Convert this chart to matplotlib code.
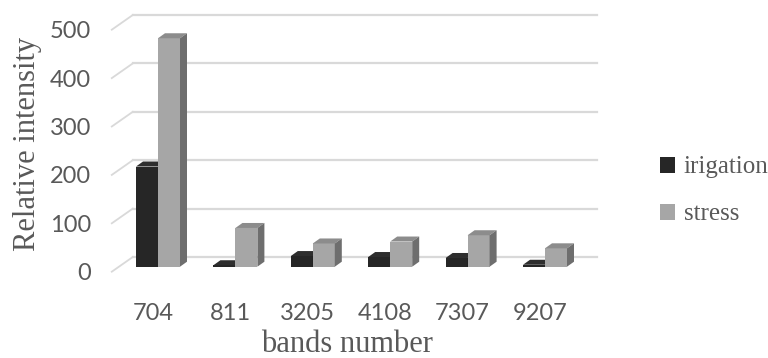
import matplotlib
matplotlib.use("Agg")
import matplotlib.pyplot as plt
import matplotlib.transforms as mtransforms
from matplotlib.patches import Polygon, Patch

bands = ["704", "811", "3205", "4108", "7307", "9207"]
irigation = [207, 3, 22, 20, 18, 4]
stress = [472, 80, 48, 52, 65, 38]
yticks = [0, 100, 200, 300, 400, 500]

W, H, DPI = 768, 358, 100
fig = plt.figure(figsize=(W / DPI, H / DPI), dpi=DPI)

# front plane of the columns, in pixels
left, right, bottom, top = 119.3, 583.7, 266.7, 24.7
ax = fig.add_axes([left / W, (H - bottom) / H, (right - left) / W, (bottom - top) / H])
ax.set_xlim(-0.5, len(bands) - 0.5)
ax.set_ylim(0, 500)
for s in ax.spines.values():
    s.set_visible(False)

grey = "#595959"
grid_c = "#d9d9d9"
bw = 22 / 77.4          # column width in category units
depth = (7, 5)          # column depth offset, px
back = (13.5, 9.7)      # back wall offset from column plane, px
front = (-7.5, -5)      # floor front edge offset, px


def off(dx, dy):
    return ax.transData + mtransforms.ScaledTranslation(dx / DPI, dy / DPI, fig.dpi_scale_trans)


def pts(xy, dx, dy):
    # data points shifted by a pixel offset, back in data coords
    disp = ax.transData.transform(xy)
    disp[:, 0] += dx
    disp[:, 1] += dy
    return ax.transData.inverted().transform(disp)


# back wall gridlines and floor/side diagonals
for v in yticks:
    ax.plot([-0.5, len(bands) - 0.5], [v, v], color=grid_c, lw=1.6,
            transform=off(*back), clip_on=False, zorder=1)
    a = pts([[-0.5, v]], *front)[0]
    b = pts([[-0.5, v]], *back)[0]
    ax.plot([a[0], b[0]], [a[1], b[1]], color=grid_c, lw=1.3, clip_on=False, zorder=1)


def column(x0, v, c_front, c_top, c_side, z):
    ax.bar(x0, v, width=bw, align="edge", color=c_front, zorder=z, clip_on=False)
    x1 = x0 + bw
    top_face = [[x0, v], [x1, v]]
    t = pts(top_face, *depth)
    ax.add_patch(Polygon([top_face[0], top_face[1], t[1], t[0]], closed=True,
                         facecolor=c_top, edgecolor="none", zorder=z, clip_on=False))
    side = [[x1, 0], [x1, v]]
    s = pts(side, *depth)
    ax.add_patch(Polygon([side[0], side[1], s[1], s[0]], closed=True,
                         facecolor=c_side, edgecolor="none", zorder=z, clip_on=False))


for i in range(len(bands)):
    column(i - bw, irigation[i], "#262626", "#2e2e2e", "#1a1a1a", 3 + 2 * i)
    column(i, stress[i], "#a6a6a6", "#8c8c8c", "#6e6e6e", 4 + 2 * i)

# ticks
ax.set_xticks(range(len(bands)))
ax.set_xticklabels(bands)
ax.set_yticks(yticks)
ax.tick_params(length=0, colors=grey, labelsize=17)
ax.tick_params(axis="x", pad=26)
ax.tick_params(axis="y", pad=20.5)
for lab in ax.get_xticklabels() + ax.get_yticklabels():
    lab.set_fontfamily("Lato")
    lab.set_color(grey)
for lab in ax.get_xticklabels():
    lab.set_transform(lab.get_transform() + mtransforms.ScaledTranslation(-5 / DPI, 0, fig.dpi_scale_trans))
for lab in ax.get_yticklabels():
    lab.set_transform(lab.get_transform() + mtransforms.ScaledTranslation(0, -5 / DPI, fig.dpi_scale_trans))

serif = "Liberation Serif"
fig.text(28 / W, 1 - 144 / H, "Relative intensity", rotation=90, ha="center", va="center",
         fontsize=22, family=serif, color=grey)
fig.text(347 / W, 1 - 344 / H, "bands number", ha="center", va="center",
         fontsize=22, family=serif, color=grey)

handles = [Patch(facecolor="#262626", label="irigation"),
           Patch(facecolor="#a6a6a6", label="stress")]
fig.legend(handles=handles, loc="center left", bbox_to_anchor=(660 / W, 1 - 191 / H),
           frameon=False, prop={"family": serif, "size": 18}, labelcolor=grey,
           handlelength=0.6, handleheight=0.6, handletextpad=0.35, labelspacing=1.0,
           borderpad=0, borderaxespad=0)

fig.savefig("out.png", dpi=DPI)
